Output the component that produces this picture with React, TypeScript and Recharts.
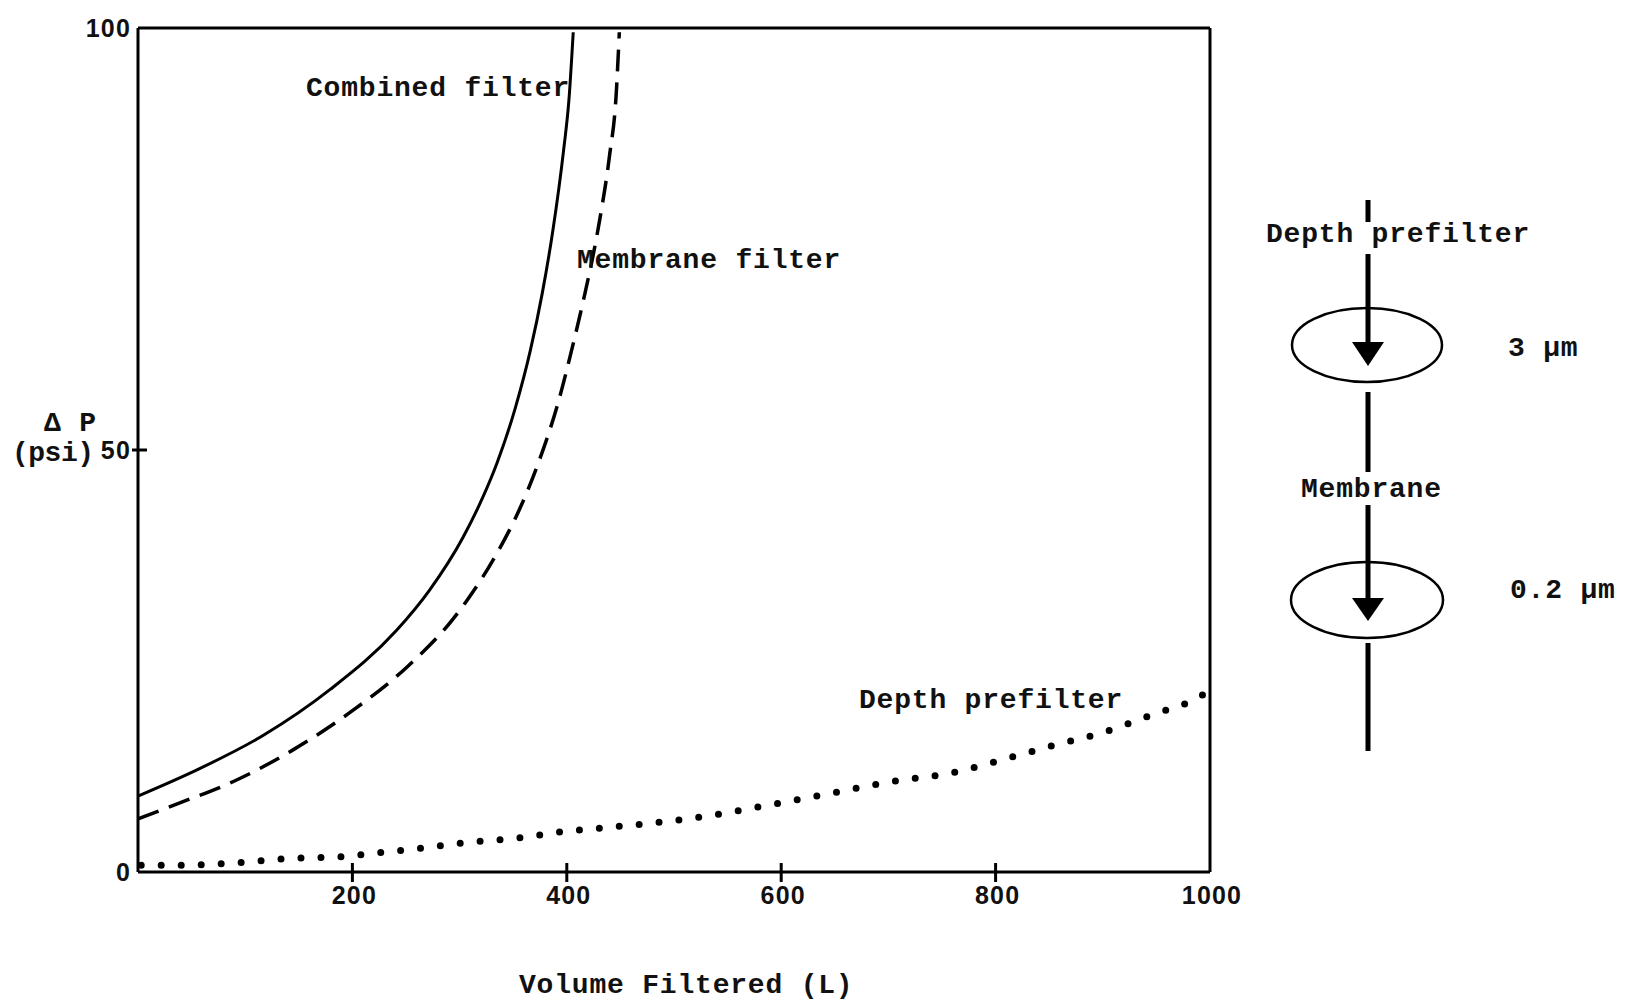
import React from 'react';
import { LineChart, Line, XAxis, YAxis, ReferenceLine } from 'recharts';

// Values (Volume filtered L vs pressure drop psi)
const combinedVolume = [0, 55, 117, 179, 241, 272, 303, 322, 335, 352, 366, 377, 387, 397, 402, 406];
const combinedDeltaP = [9.0, 12.1, 16.2, 21.6, 28.6, 33.4, 39.6, 44.5, 48.5, 55.0, 61.8, 68.5, 76, 85.5, 91.5, 99.5];

const membraneVolume = [0, 33, 92, 145, 201, 251, 294, 307, 335, 356, 375, 391, 406, 417, 426, 431, 440, 446, 449];
const membraneDeltaP = [6.3, 7.9, 10.9, 14.5, 19.2, 24.3, 30.0, 32.2, 37.8, 43.0, 49.0, 55.2, 62.6, 68.6, 74.0, 77.5, 85.0, 92.0, 99.5];

const depthVolume = [3, 42, 92, 142, 188, 226, 269, 307, 359, 391, 431, 472, 529, 587, 646, 702, 761, 809, 854, 902, 950, 980, 1000];
const depthDeltaP = [0.8, 0.8, 1.1, 1.6, 1.8, 2.3, 2.9, 3.5, 4.1, 4.7, 5.2, 5.7, 6.6, 7.9, 9.3, 10.7, 11.8, 13.4, 15.0, 16.6, 18.8, 20.1, 21.5];

const xTicks = [200, 400, 600, 800, 1000];
const yTicks = [0, 50, 100];

const toPoints = (xs: number[], ys: number[]) => xs.map((x, i) => ({ x, y: ys[i] }));

const mono = "'Liberation Mono', 'Courier New', monospace";
const sans = "'Liberation Sans', Arial, sans-serif";

const monoText = {
  fontFamily: mono,
  fontSize: 28,
  fontWeight: 700,
  letterSpacing: 0.8,
  fill: '#111',
} as const;

const XTick = ({ x, y, payload }: any) => (
  <g>
    {payload.value < 1000 && (
      <line x1={x} x2={x} y1={y - 9} y2={y + 10} stroke="#000" strokeWidth={3} />
    )}
    <text x={x + 2} y={y + 32} textAnchor="middle" fontFamily={sans} fontSize={25} fontWeight={700} letterSpacing={1.2} fill="#111">
      {payload.value}
    </text>
  </g>
);

const YTick = ({ x, y, payload }: any) => (
  <g>
    {payload.value === 50 && (
      <line x1={x - 6} x2={x + 9} y1={y} y2={y} stroke="#000" strokeWidth={3} />
    )}
    <text x={x - 7} y={y + 9} textAnchor="end" fontFamily={sans} fontSize={25} fontWeight={700} letterSpacing={1.2} fill="#111">
      {payload.value}
    </text>
  </g>
);

function Diagram() {
  const lx = 1368;
  const seg = (y1: number, y2: number) => (
    <line x1={lx} x2={lx} y1={y1} y2={y2} stroke="#000" strokeWidth={5} />
  );
  return (
    <svg
      width={1627}
      height={1004}
      style={{ position: 'absolute', left: 0, top: 0, pointerEvents: 'none' }}
    >
      {/* curve labels */}
      <text x={306} y={96} {...monoText}>Combined filter</text>
      <text x={577} y={268} {...monoText}>Membrane filter</text>
      <text x={859} y={708} {...monoText}>Depth prefilter</text>

      {/* axis titles */}
      <text x={44} y={431} {...monoText}>Δ P</text>
      <text x={12} y={461} {...monoText} letterSpacing={-0.5}>(psi)</text>
      <text x={519} y={993} {...monoText}>Volume Filtered (L)</text>

      {/* filter train sketch */}
      {seg(200, 222)}
      {seg(254, 350)}
      <polygon points={`${lx - 16},342 ${lx + 16},342 ${lx},366`} fill="#000" />
      <ellipse cx={1367} cy={345} rx={75} ry={37} fill="none" stroke="#000" strokeWidth={2.5} />
      {seg(392, 472)}
      {seg(505, 605)}
      <polygon points={`${lx - 16},598 ${lx + 16},598 ${lx},621`} fill="#000" />
      <ellipse cx={1367} cy={600} rx={76} ry={38} fill="none" stroke="#000" strokeWidth={2.5} />
      {seg(643, 751)}

      <text x={1266} y={242} {...monoText}>Depth prefilter</text>
      <text x={1508} y={356} {...monoText}>3 μm</text>
      <text x={1301} y={497} {...monoText}>Membrane</text>
      <text x={1510} y={598} {...monoText}>0.2 μm</text>
    </svg>
  );
}

export default function App() {
  return (
    <div style={{ position: 'absolute', left: 0, top: 0, width: 1627, height: 1004, background: '#fff' }}>
      <LineChart
        width={1627}
        height={1004}
        margin={{ top: 28, right: 417, bottom: 102, left: 78 }}
      >
        <XAxis
          type="number"
          dataKey="x"
          domain={[0, 1000]}
          ticks={xTicks}
          allowDataOverflow
          height={30}
          axisLine={{ stroke: '#000', strokeWidth: 3 }}
          tickLine={false}
          tickSize={0}
          tickMargin={0}
          tick={<XTick />}
        />
        <YAxis
          type="number"
          dataKey="y"
          domain={[0, 100]}
          ticks={yTicks}
          allowDataOverflow
          width={60}
          axisLine={{ stroke: '#000', strokeWidth: 3 }}
          tickLine={false}
          tickSize={0}
          tickMargin={0}
          tick={<YTick />}
        />
        <ReferenceLine y={100} stroke="#000" strokeWidth={3} />
        <ReferenceLine x={1000} stroke="#000" strokeWidth={3} />
        <Line
          data={toPoints(combinedVolume, combinedDeltaP)}
          dataKey="y"
          type="monotone"
          stroke="#000"
          strokeWidth={3}
          dot={false}
          isAnimationActive={false}
        />
        <Line
          data={toPoints(membraneVolume, membraneDeltaP)}
          dataKey="y"
          type="monotone"
          stroke="#000"
          strokeWidth={3.5}
          strokeDasharray="22 11"
          dot={false}
          isAnimationActive={false}
        />
        <Line
          data={toPoints(depthVolume, depthDeltaP)}
          dataKey="y"
          type="monotone"
          stroke="#000"
          strokeWidth={7}
          strokeLinecap="round"
          strokeDasharray="0 20"
          dot={false}
          isAnimationActive={false}
        />
      </LineChart>
      <Diagram />
    </div>
  );
}
